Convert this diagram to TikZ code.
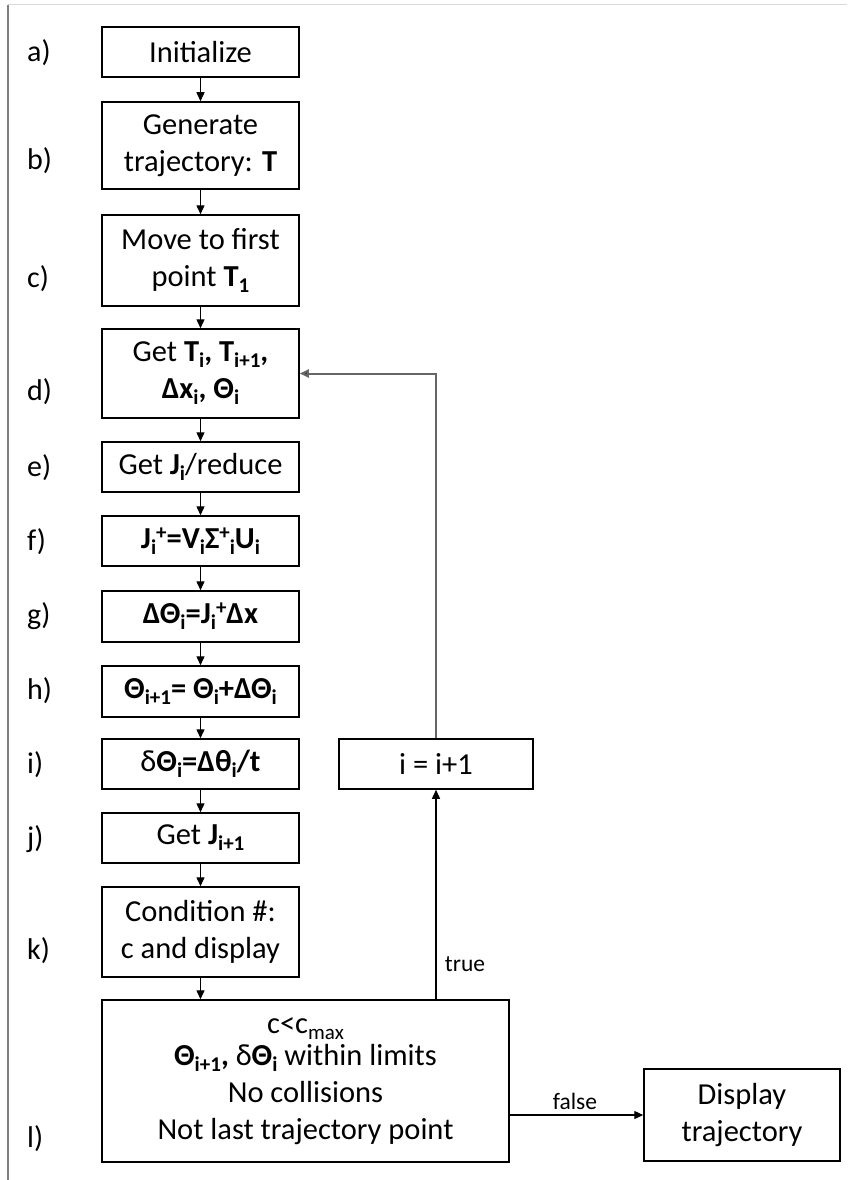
\documentclass[tikz,border=0pt]{standalone}
\usepackage{fontspec}
\setmainfont{Carlito}
\usetikzlibrary{arrows.meta}
\newcommand\sbs[1]{\raisebox{-6pt}{\fontsize{21}{21}\selectfont #1}}
\newcommand\sps[1]{\raisebox{9pt}{\fontsize{21}{21}\selectfont #1}}
\begin{document}
\begin{tikzpicture}[x=1pt,y=-1pt,
  box/.style={draw,line width=1.5pt,minimum width=197pt,inner sep=0pt,align=center,
    font=\fontsize{30.5}{37}\selectfont},
  lab/.style={anchor=west,inner sep=0pt,font=\fontsize{30}{30}\selectfont,text height=25pt,text depth=6pt},
  small/.style={inner sep=0pt,font=\fontsize{23.5}{23.5}\selectfont},
  arr/.style={line width=1.4pt,-{Triangle[length=9pt,width=8pt]}},
  loop/.style={line width=2pt,draw=black!60,-{Triangle[length=9pt,width=8pt,fill=black!80]}}]
\useasboundingbox (0,0) rectangle (847,1180);
\draw[black!15,line width=1pt] (8,5) coordinate (tl) -- (847,5) coordinate (tr);
\draw[black!50,line width=1.5pt] (tl) -- (8,1180) coordinate (bl);

\node[box,minimum height=50pt] (a) at (200.5,52) {Initialize};
\node[box,minimum height=87pt] (b) at (200.5,145.5) {Generate\\trajectory: \textbf{T}};
\node[box,minimum height=91pt] (c) at (200.5,260.5) {Move to first\\point \textbf{T\sbs{1}}};
\node[box,minimum height=89pt] (d) at (200.5,373.5) {Get \textbf{T\sbs{i}, T\sbs{i+1},}\\\textbf{Δx\sbs{i}, Θ\sbs{i}}};
\node[box,minimum height=50pt] (e) at (200.5,467) {Get \textbf{J\sbs{i}}/reduce};
\node[box,minimum height=50pt] (f) at (200.5,541) {\textbf{J\sbs{i}\sps{+}=V\sbs{i}Σ\sps{+}\sbs{i}U\sbs{i}}};
\node[box,minimum height=51pt] (g) at (200.5,616.5) {\textbf{ΔΘ\sbs{i}=J\sbs{i}\sps{+}Δx}};
\node[box,minimum height=51pt] (h) at (200.5,691.5) {\textbf{Θ\sbs{i+1}= Θ\sbs{i}+ΔΘ\sbs{i}}};
\node[box,minimum height=50pt] (i) at (200.5,764) {δ\textbf{Θ\sbs{i}=Δθ\sbs{i}/t}};
\node[box,minimum height=50pt] (j) at (200.5,838) {Get \textbf{J\sbs{i+1}}};
\node[box,minimum height=90pt] (k) at (200.5,932) {Condition \#:\\c and display};
\node[box,minimum width=407pt,minimum height=162pt] (l) at (305.5,1081)
  {c<c\sbs{max}\\[-5pt]\textbf{Θ\sbs{i+1},} δ\textbf{Θ\sbs{i}} within limits\\No collisions\\Not last trajectory point};
\node[box,minimum width=194pt,minimum height=50pt] (inc) at (436,764) {i = i+1};
\node[box,minimum width=196pt,minimum height=92pt] (disp) at (742,1115) {Display\\trajectory};

\node[lab] (la) at (27,52) {a)};
\node[lab] (lb) at (27,160) {b)};
\node[lab] (lc) at (27,278) {c)};
\node[lab] (ld) at (27,391) {d)};
\node[lab] (le) at (27,467) {e)};
\node[lab] (lf) at (27,541) {f)};
\node[lab] (lg) at (27,615) {g)};
\node[lab] (lh) at (27,690) {h)};
\node[lab] (li) at (27,764) {i)};
\node[lab] (lj) at (27,838) {j)};
\node[lab] (lk) at (27,950) {k)};
\node[lab] (ll) at (27,1138) {l)};

\draw[arr] (a) -- (b);
\draw[arr] (b) -- (c);
\draw[arr] (c) -- (d);
\draw[arr] (d) -- (e);
\draw[arr] (e) -- (f);
\draw[arr] (f) -- (g);
\draw[arr] (g) -- (h);
\draw[arr] (h) -- (i);
\draw[arr] (i) -- (j);
\draw[arr] (j) -- (k);
\draw[arr] (k) -- (k |- l.north);
\draw[arr] (inc |- l.north) -- (inc.south);
\draw[loop] (inc.north) |- (d.east);
\draw[arr] (l.east |- disp.west) -- (disp.west);
\node[small] (t) at (465,964) {true};
\node[small] (fl) at (575,1101) {false};
\end{tikzpicture}
\end{document}
